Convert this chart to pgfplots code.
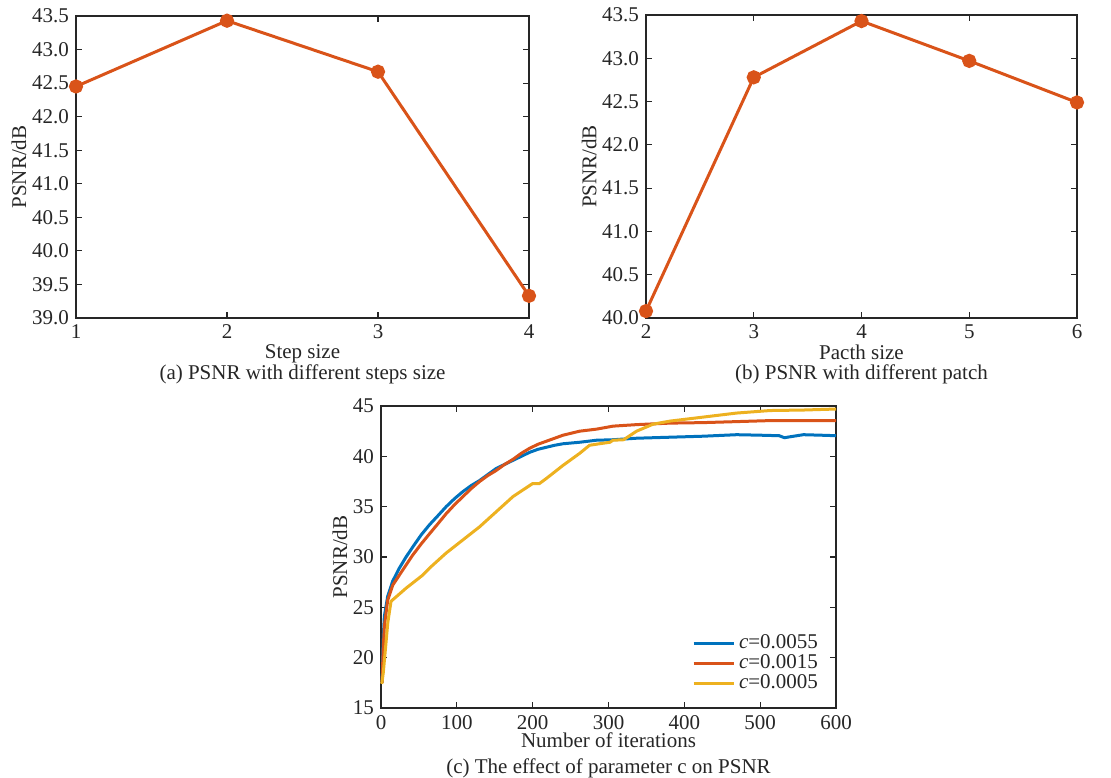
\documentclass[border=0pt]{standalone}
\usepackage{pgfplots}
\usepackage{fontspec}
\setmainfont{Liberation Serif}
\pgfplotsset{compat=1.18}

\definecolor{mblue}{HTML}{0072BD}
\definecolor{mred}{HTML}{D95319}
\definecolor{myellow}{HTML}{EDB120}
\definecolor{axgray}{HTML}{262626}

\pgfplotsset{
  every axis/.append style={
    scale only axis,
    anchor=south west,
    axis line style={axgray, line width=0.6pt},
    tick style={axgray, line width=0.6pt},
    major tick length=3pt,
    tick align=inside,
    tick pos=both,
    font=\fontsize{10.5}{12.6}\selectfont,
    ticklabel style={text=axgray},
    label style={text=axgray},
    /pgf/number format/assume math mode=true,
    clip=false,
  },
}

\begin{document}
\begin{tikzpicture}
\useasboundingbox (0,0) rectangle (555.5pt,388.5pt);

% (a) step size
\begin{axis}[
    at={(38pt,229.5pt)},
    width=226.5pt, height=151pt,
    xmin=1, xmax=4, ymin=39, ymax=43.5,
    xtick={1,2,3,4},
    ytick={39,39.5,...,43.5},
    yticklabel style={/pgf/number format/fixed, /pgf/number format/fixed zerofill, /pgf/number format/precision=1},
    xlabel={Step size},
    ylabel={PSNR/dB},
    xlabel style={yshift=4pt},
    ylabel style={yshift=-4pt},
]
\addplot[mred, line width=1.5pt, mark=*, mark size=2.8pt]
  coordinates {(1,42.45) (2,43.43) (3,42.67) (4,39.33)};
\node[text=axgray] at (rel axis cs:0.5,0) [yshift=-28pt] {(a) PSNR with different steps size};
\end{axis}

% (b) patch size
\begin{axis}[
    at={(323pt,229.5pt)},
    width=215.5pt, height=151.5pt,
    xmin=2, xmax=6, ymin=40, ymax=43.5,
    xtick={2,3,4,5,6},
    ytick={40,40.5,...,43.5},
    yticklabel style={/pgf/number format/fixed, /pgf/number format/fixed zerofill, /pgf/number format/precision=1},
    xlabel={Pacth size},
    ylabel={PSNR/dB},
    xlabel style={yshift=4pt},
    ylabel style={yshift=-4pt},
]
\addplot[mred, line width=1.5pt, mark=*, mark size=2.8pt]
  coordinates {(2,40.08) (3,42.78) (4,43.43) (5,42.97) (6,42.49)};
\node[text=axgray] at (rel axis cs:0.5,0) [yshift=-28pt] {(b) PSNR with different patch};
\end{axis}

% (c) parameter c
\begin{axis}[
    at={(190.5pt,34.5pt)},
    width=227.5pt, height=151pt,
    xmin=0, xmax=600, ymin=15, ymax=45,
    xtick={0,100,...,600},
    ytick={15,20,...,45},
    xlabel={Number of iterations},
    ylabel={PSNR/dB},
    xlabel style={yshift=5pt},
    ylabel style={yshift=-4pt},
    legend cell align=left,
    legend style={at={(0.97,0.04)}, anchor=south east, draw=none, fill=none,
      row sep=-2.5pt, inner sep=0pt, text=axgray},
    legend image code/.code={\draw[#1] (0pt,0pt) -- (20pt,0pt);},
]
\addplot[mblue, line width=1.5pt] coordinates {
  (1.3,17.5) (3,22) (4.4,24.1) (8.8,26.1) (15.4,27.6) (24.2,28.9) (33,30.0)
  (41.9,31.0) (53,32.2) (63.9,33.2) (75,34.1) (85.9,35.0) (97,35.8) (108,36.5)
  (119,37.1) (130,37.6) (141,38.2) (152,38.8) (163,39.2) (174,39.6) (185,40.0)
  (196,40.4) (207,40.7) (218,40.9) (229,41.1) (240,41.25) (262,41.4) (284,41.6)
  (306,41.65) (337,41.8) (381,41.9) (425,42.0) (469,42.15) (500,42.1) (525,42.05)
  (532,41.85) (540,41.95) (557,42.15) (580,42.1) (600,42.05)
};
\addlegendentry{$\mathit{c}$=0.0055}
\addplot[mred, line width=1.5pt] coordinates {
  (1.3,17.5) (3,21) (4.4,23.1) (8.8,25.7) (15.4,27.2) (24.2,28.2) (33,29.2)
  (41.9,30.2) (53,31.3) (63.9,32.3) (75,33.3) (85.9,34.3) (97,35.2) (108,36.0)
  (119,36.8) (130,37.5) (141,38.1) (152,38.6) (163,39.2) (174,39.7) (185,40.3)
  (196,40.8) (207,41.2) (218,41.5) (229,41.8) (240,42.1) (262,42.5) (284,42.7)
  (306,43.0) (337,43.15) (381,43.3) (425,43.35) (469,43.45) (513,43.55)
  (557,43.55) (600,43.55)
};
\addlegendentry{$\mathit{c}$=0.0015}
\addplot[myellow, line width=1.5pt] coordinates {
  (1,17.4) (3,18.5) (6,21) (9,23.5) (13.2,25.6) (33,26.9) (55,28.2) (64,28.9)
  (86,30.4) (108,31.7) (130,33.0) (152,34.5) (174,36.0) (196,37.1) (200,37.3)
  (209,37.3) (218,37.8) (240,39.1) (262,40.3) (275,41.1) (288,41.25) (302,41.4)
  (306,41.6) (320,41.65) (337,42.5) (359,43.2) (381,43.5) (425,43.9) (469,44.3)
  (513,44.55) (557,44.6) (600,44.7)
};
\addlegendentry{$\mathit{c}$=0.0005}
\node[text=axgray] at (rel axis cs:0.5,0) [yshift=-30pt] {(c) The effect of parameter c on PSNR};
\end{axis}
\end{tikzpicture}
\end{document}
